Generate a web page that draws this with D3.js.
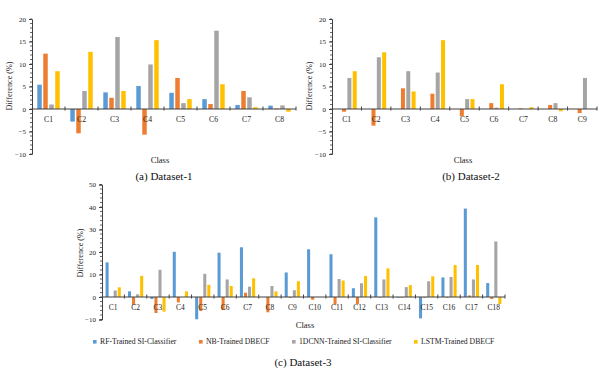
<!DOCTYPE html>
<html><head><meta charset="utf-8">
<script src="https://cdn.jsdelivr.net/npm/d3@7"></script>
<style>html,body{margin:0;padding:0;background:#fff;}svg{display:block;}svg text{font-family:"Liberation Serif","Times New Roman",serif !important;}</style>
</head><body>
<svg id="chart" width="600" height="379"></svg>
<script>
// ---- data ----
const seriesNames = ["RF-Trained SI-Classifier", "NB-Trained DBECF", "1DCNN-Trained SI-Classifier", "LSTM-Trained DBECF"];
const seriesColors = ["#5B9BD5", "#ED7D31", "#A5A5A5", "#FFC000"];

const categories1 = ["C1","C2","C3","C4","C5","C6","C7","C8"];
const rf1   = [5.4, -2.8, 3.7, 5.1, 3.6, 2.2, 0.9, 0.75];
const nb1   = [12.3, -5.4, 2.5, -5.7, 6.9, 1.1, 4.0, 0.1];
const cnn1  = [1.0, 4.0, 16.0, 9.9, 1.3, 17.4, 2.6, 0.8];
const lstm1 = [8.4, 12.7, 4.0, 15.3, 2.2, 5.5, 0.4, -0.6];

const categories2 = ["C1","C2","C3","C4","C5","C6","C7","C8","C9"];
const rf2   = [0, 0, 0, 0, 0, 0, 0, 0, 0];
const nb2   = [-0.6, -3.7, 4.6, 3.4, -1.6, 1.3, 0.15, 0.9, -0.9];
const cnn2  = [6.9, 11.5, 8.4, 8.1, 2.2, 0.3, 0, 1.3, 6.9];
const lstm2 = [8.4, 12.6, 3.9, 15.3, 2.2, 5.5, 0.4, -0.5, 0];

const categories3 = ["C1","C2","C3","C4","C5","C6","C7","C8","C9","C10","C11","C12","C13","C14","C15","C16","C17","C18"];
const rf3   = [15.4, 2.5, -0.9, 20.1, -9.9, 19.7, 22.1, 0, 10.9, 21.2, 19.0, 3.9, 35.4, -0.2, -9.5, 8.7, 39.3, 6.2];
const nb3   = [0, -3.5, -7.1, -2.4, -6.2, -5.8, 1.9, -6.8, -0.3, -1.2, -3.3, -3.1, -0.2, -0.2, -0.2, -0.3, 0.7, -0.9];
const cnn3  = [2.9, 1.2, 12.1, 0, 10.3, 7.8, 4.6, 4.9, 3.0, 0, 8.0, 6.1, 7.8, 4.4, 7.0, 8.9, 7.8, 24.7];
const lstm3 = [4.3, 9.4, -6.5, 2.5, 5.4, 4.9, 8.3, 2.5, 7.0, 0, 7.3, 9.3, 12.7, 5.3, 9.2, 14.2, 14.2, -3.1];

const yTicks12 = [-10, -5, 0, 5, 10, 15, 20];
const yTicks3 = [-10, 0, 10, 20, 30, 40, 50];

// ---- drawing ----
const svg = d3.select("#chart");
const axisColor = "#404040";

function drawPanel(o) {
  const g = svg.append("g");
  const x = d3.scaleBand().domain(o.categories).range(o.xRange);
  const y = d3.scaleLinear().domain(o.yDomain).range(o.yRange);
  const groupFrac = 0.68;
  const x1 = d3.scaleBand().domain(d3.range(4)).range([0, x.bandwidth() * groupFrac]).paddingInner(0.25);
  const off = x.bandwidth() * (1 - groupFrac) / 2;
  const series = o.series;

  // bars
  o.categories.forEach((c, i) => {
    series.forEach((s, k) => {
      const v = s[i];
      if (v === 0) return;
      g.append("rect")
        .attr("x", x(c) + off + x1(k))
        .attr("width", x1.bandwidth())
        .attr("y", y(Math.max(0, v)))
        .attr("height", Math.max(0.6, Math.abs(y(v) - y(0))))
        .attr("fill", seriesColors[k]);
    });
  });

  // y axis
  const yAxis = d3.axisLeft(y).tickValues(o.yTicks).tickSize(3).tickPadding(3).tickFormat(d3.format("d"));
  const ya = g.append("g").attr("transform", `translate(${o.xRange[0]},0)`).call(yAxis);
  ya.attr("font-family", null);
  ya.select(".domain").attr("stroke", axisColor);
  ya.selectAll(".tick line").attr("stroke", axisColor);
  ya.selectAll(".tick text").attr("font-size", o.yTickFont).attr("fill", "#222");
  // minor ticks
  const minor = d3.range(o.yDomain[0], o.yDomain[1] + 0.001, o.minorStep);
  g.append("g").selectAll("line").data(minor).join("line")
    .attr("x1", o.xRange[0] - 2).attr("x2", o.xRange[0])
    .attr("y1", d => y(d)).attr("y2", d => y(d))
    .attr("stroke", axisColor).attr("stroke-width", 0.8);

  // x axis at zero
  const y0 = y(0);
  g.append("line").attr("x1", o.xRange[0]).attr("x2", o.xRange[1])
    .attr("y1", y0).attr("y2", y0).attr("stroke", axisColor).attr("stroke-width", 1);
  const bounds = o.categories.map(c => x(c) + x.bandwidth());
  g.append("g").selectAll("line").data(bounds).join("line")
    .attr("x1", d => d).attr("x2", d => d)
    .attr("y1", y0 - 2.5).attr("y2", y0 + 1.5)
    .attr("stroke", axisColor).attr("stroke-width", 1);
  g.append("g").selectAll("text").data(o.categories).join("text")
    .attr("x", d => x(d) + x.bandwidth() / 2)
    .attr("y", y0 + 12.5)
    .attr("text-anchor", "middle")
    .attr("font-size", o.catFont).attr("fill", "#222")
    .text(d => d);

  // axis title
  g.append("text")
    .attr("transform", `translate(${o.yLabelX},${o.yLabelY}) rotate(-90)`)
    .attr("text-anchor", "middle").attr("dominant-baseline", "middle")
    .attr("font-size", 8.2).attr("fill", "#222")
    .text("Difference (%)");
  g.append("text")
    .attr("x", o.classX).attr("y", o.classY)
    .attr("text-anchor", "middle").attr("dominant-baseline", "middle")
    .attr("font-size", 8.6).attr("fill", "#222")
    .text("Class");
  g.append("text")
    .attr("x", o.titleX).attr("y", o.titleY)
    .attr("text-anchor", "middle").attr("dominant-baseline", "middle")
    .attr("font-size", 11).attr("fill", "#111")
    .text(o.title);
}

drawPanel({
  categories: categories1, series: [rf1, nb1, cnn1, lstm1],
  xRange: [32, 296], yDomain: [-10, 20], yRange: [154, 19],
  yTicks: yTicks12, minorStep: 1, yTickFont: 7, catFont: 7.7,
  yLabelX: 10, yLabelY: 86, classX: 160, classY: 161,
  title: "(a) Dataset-1", titleX: 164, titleY: 177
});
drawPanel({
  categories: categories2, series: [rf2, nb2, cnn2, lstm2],
  xRange: [332, 597], yDomain: [-10, 20], yRange: [154, 19],
  yTicks: yTicks12, minorStep: 1, yTickFont: 7, catFont: 7.7,
  yLabelX: 310, yLabelY: 86, classX: 463, classY: 161,
  title: "(b) Dataset-2", titleX: 471, titleY: 177
});
drawPanel({
  categories: categories3, series: [rf3, nb3, cnn3, lstm3],
  xRange: [102, 505], yDomain: [-10, 50], yRange: [319.5, 184.5],
  yTicks: yTicks3, minorStep: 2, yTickFont: 7, catFont: 7.5,
  yLabelX: 81, yLabelY: 253, classX: 305, classY: 326,
  title: "(c) Dataset-3", titleX: 303, titleY: 363
});

// legend
const legendX = [93, 199, 292, 414];
const lg = svg.append("g");
seriesNames.forEach((n, k) => {
  lg.append("rect").attr("x", legendX[k]).attr("y", 340).attr("width", 3.6).attr("height", 3.6).attr("fill", seriesColors[k]);
  lg.append("text").attr("x", legendX[k] + 7).attr("y", 342).attr("dominant-baseline", "middle")
    .attr("font-size", 7.7).attr("fill", "#222").text(n);
});
</script>
</body></html>
